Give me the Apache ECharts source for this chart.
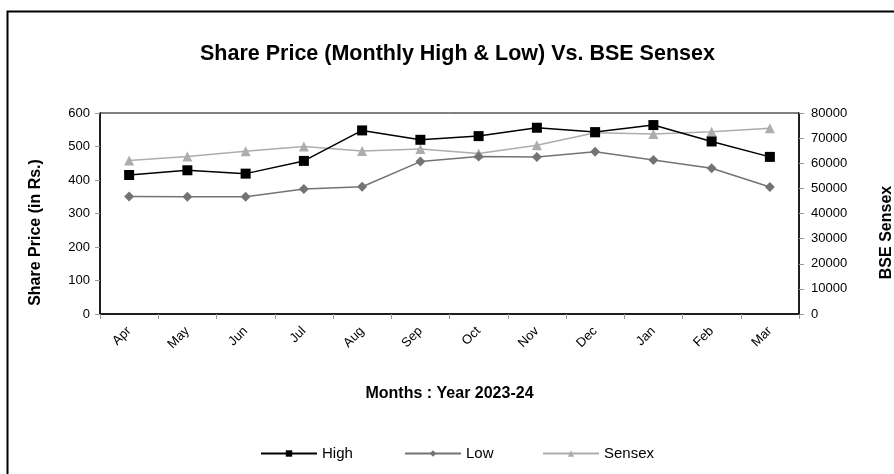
<!DOCTYPE html>
<html>
<head>
<meta charset="utf-8">
<script src="https://cdn.jsdelivr.net/npm/echarts@6/dist/echarts.min.js"></script>
<style>
  html, body { margin: 0; padding: 0; background: #fff; }
  #chart { width: 894px; height: 474px; }
</style>
</head>
<body>
<div id="chart"></div>
<script>
const months = ['Apr', 'May', 'Jun', 'Jul', 'Aug', 'Sep', 'Oct', 'Nov', 'Dec', 'Jan', 'Feb', 'Mar']
const highPrice = [415, 429, 419, 457, 548, 520, 531, 556, 543, 564, 515, 469]
const lowPrice = [351, 350, 350, 373, 380, 455, 470, 469, 484, 460, 435, 379]
const sensex = [61060, 62650, 64800, 66620, 64910, 65700, 63840, 67170, 72180, 71660, 72580, 73920]

const font = 'Liberation Sans, Arial, sans-serif'
const chart = echarts.init(document.getElementById('chart'))

// one legend block per series, Excel spaces them at fixed spots
const legendAt = (name, left) => ({
  data: [name],
  left: left,
  top: 446,
  padding: 0,
  itemWidth: 56,
  itemHeight: 8,
  textStyle: { fontFamily: font, fontSize: 15, color: '#000' }
})

const option = {
  animation: false,
  textStyle: { fontFamily: font, color: '#000' },
  title: {
    text: 'Share Price (Monthly High & Low) Vs. BSE Sensex',
    left: 195,
    top: 38,
    textStyle: { fontFamily: font, fontSize: 21.5, fontWeight: 'bold', color: '#000' }
  },
  // outer frame (only left and top edges visible in the original)
  graphic: [
    {
      type: 'rect',
      shape: { x: 7.5, y: 11.5, width: 920, height: 500 },
      style: { fill: 'none', stroke: '#000', lineWidth: 2 }
    }
  ],
  legend: [
    legendAt('High', 260),
    legendAt('Low', 404),
    legendAt('Sensex', 542)
  ],
  grid: {
    left: 100,
    right: 95,
    top: 113,
    bottom: 160,
    outerBoundsMode: 'none',
    show: true,
    borderColor: '#000',
    borderWidth: 1
  },
  xAxis: {
    type: 'category',
    data: months,
    boundaryGap: true,
    name: 'Months : Year 2023-24',
    nameLocation: 'middle',
    nameGap: 72,
    nameTextStyle: { fontFamily: font, fontSize: 16, fontWeight: 'bold', color: '#000' },
    axisLine: { lineStyle: { color: '#000', width: 1.5 } },
    axisTick: { show: true, length: 5, lineStyle: { color: '#999' } },
    axisLabel: { rotate: 45, fontSize: 13, color: '#000', margin: 15 }
  },
  yAxis: [
    {
      type: 'value',
      min: 0,
      max: 600,
      interval: 100,
      name: 'Share Price (in Rs.)',
      nameLocation: 'middle',
      nameGap: 56,
      nameRotate: 90,
      nameTextStyle: {
        fontFamily: font, fontSize: 16, fontWeight: 'bold', color: '#000',
        padding: [0, 38, 0, 0]
      },
      axisLine: { show: true, lineStyle: { color: '#000', width: 1.5 } },
      axisTick: { show: true, length: 5, lineStyle: { color: '#999' } },
      axisLabel: { fontSize: 13, color: '#000', margin: 10 },
      splitLine: { show: false }
    },
    {
      type: 'value',
      min: 0,
      max: 80000,
      interval: 10000,
      name: 'BSE Sensex',
      nameLocation: 'middle',
      nameGap: 80,
      nameRotate: 90,
      nameTextStyle: {
        fontFamily: font, fontSize: 16, fontWeight: 'bold', color: '#000',
        padding: [0, 38, 0, 0]
      },
      axisLine: { show: true, lineStyle: { color: '#000', width: 1.5 } },
      axisTick: { show: true, length: 5, lineStyle: { color: '#999' } },
      axisLabel: { fontSize: 13, color: '#000', margin: 12, formatter: v => String(v) },
      splitLine: { show: false }
    }
  ],
  series: [
    {
      name: 'High',
      type: 'line',
      yAxisIndex: 0,
      data: highPrice,
      symbol: 'rect',
      symbolSize: 10,
      itemStyle: { color: '#000' },
      lineStyle: { color: '#000', width: 1.5 },
      z: 4
    },
    {
      name: 'Low',
      type: 'line',
      yAxisIndex: 0,
      data: lowPrice,
      symbol: 'diamond',
      symbolSize: 10,
      itemStyle: { color: '#737373' },
      lineStyle: { color: '#737373', width: 1.5 },
      z: 3
    },
    {
      name: 'Sensex',
      type: 'line',
      yAxisIndex: 1,
      data: sensex,
      symbol: 'triangle',
      symbolSize: 10,
      itemStyle: { color: '#adadad' },
      lineStyle: { color: '#adadad', width: 1.5 },
      z: 2
    }
  ]
}

chart.setOption(option)
</script>
</body>
</html>
